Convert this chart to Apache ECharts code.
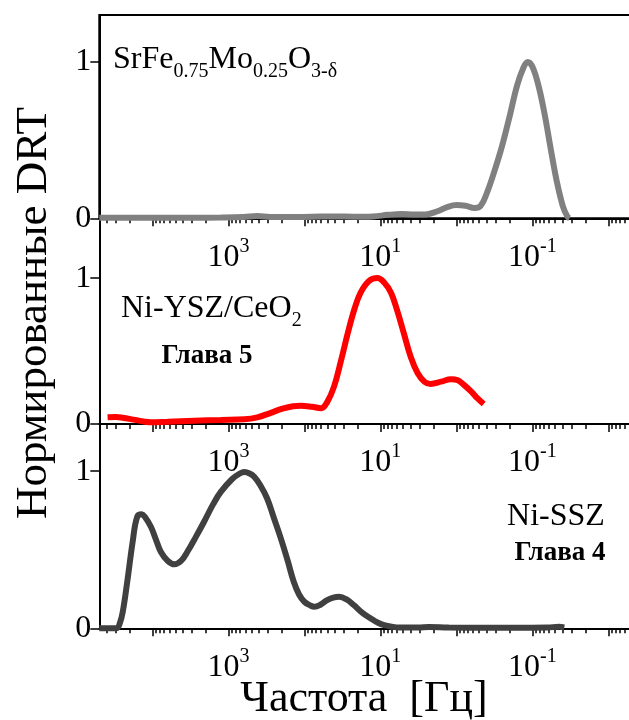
<!DOCTYPE html>
<html><head><meta charset="utf-8">
<script src="https://cdn.jsdelivr.net/npm/echarts@6/dist/echarts.min.js"></script>
<style>html,body{margin:0;padding:0;background:#fff}#c{width:629px;height:720px}</style>
</head><body><div id="c"></div>
<script>
// log10(frequency, Hz) and normalised DRT values
const logF1 = [4.699, 4.3, 3.9, 3.5, 3.1, 2.8, 2.62, 2.45, 2.2, 1.9, 1.6, 1.35, 1.1, 0.9, 0.72, 0.55, 0.4, 0.25, 0.12, 0.0, -0.12, -0.24, -0.32, -0.4, -0.5, -0.6, -0.7, -0.8, -0.88, -0.94, -1.0, -1.08, -1.16, -1.24, -1.32, -1.4, -1.46, -1.49];
const drt1  = [0.004, 0.004, 0.004, 0.004, 0.005, 0.008, 0.014, 0.008, 0.008, 0.01, 0.012, 0.01, 0.012, 0.022, 0.027, 0.024, 0.025, 0.045, 0.072, 0.085, 0.08, 0.066, 0.08, 0.16, 0.3, 0.46, 0.65, 0.85, 0.96, 1.0, 0.97, 0.85, 0.67, 0.45, 0.24, 0.08, 0.012, 0.0];

const logF2 = [4.59, 4.48, 4.39, 4.25, 4.1, 4.02, 3.8, 3.45, 3.1, 2.79, 2.62, 2.45, 2.3, 2.15, 2.05, 1.9, 1.78, 1.7, 1.61, 1.52, 1.43, 1.34, 1.26, 1.15, 1.04, 0.95, 0.86, 0.78, 0.69, 0.6, 0.51, 0.42, 0.34, 0.2, 0.07, -0.02, -0.1, -0.2, -0.28, -0.36];
const drt2  = [0.046, 0.048, 0.043, 0.03, 0.016, 0.012, 0.016, 0.023, 0.028, 0.032, 0.045, 0.075, 0.103, 0.122, 0.125, 0.118, 0.108, 0.15, 0.256, 0.43, 0.62, 0.79, 0.9, 0.98, 1.0, 0.97, 0.9, 0.78, 0.62, 0.46, 0.35, 0.29, 0.275, 0.29, 0.307, 0.3, 0.268, 0.22, 0.175, 0.137];

const logF3 = [4.699, 4.55, 4.47, 4.43, 4.39, 4.33, 4.26, 4.2, 4.14, 4.1, 4.02, 3.95, 3.89, 3.8, 3.71, 3.62, 3.54, 3.43, 3.32, 3.2, 3.1, 2.95, 2.85, 2.79, 2.72, 2.66, 2.58, 2.49, 2.4, 2.31, 2.22, 2.14, 2.07, 2.0, 1.92, 1.87, 1.79, 1.7, 1.62, 1.54, 1.45, 1.35, 1.24, 1.13, 1.03, 0.95, 0.85, 0.75, 0.5, 0.36, 0.1, -0.4, -0.9, -1.2, -1.35, -1.42];
const drt3  = [0, 0, 0, 0.03, 0.105, 0.30, 0.55, 0.71, 0.725, 0.71, 0.646, 0.56, 0.487, 0.43, 0.407, 0.43, 0.487, 0.58, 0.678, 0.79, 0.868, 0.95, 0.985, 0.995, 0.985, 0.964, 0.91, 0.826, 0.7, 0.572, 0.43, 0.296, 0.215, 0.169, 0.145, 0.137, 0.15, 0.18, 0.195, 0.2, 0.185, 0.148, 0.1, 0.064, 0.035, 0.02, 0.01, 0.005, 0.005, 0.008, 0.005, 0.004, 0.004, 0.005, 0.01, 0.006];

const decadeTicks = [4, 3, 2, 1, 0, -1, -2, -3];   // 10^4 ... 10^-3
const labelTicks  = [3, 1, -1];                    // labelled decades
const yTicks      = [0, 1];
const X_MAX = Math.log10(5e4), X_MIN = -3;

const minorTicks = [];
decadeTicks.forEach(d => { for (let k = 2; k <= 9; k++) { const v = d + Math.log10(k); if (v < X_MAX && v > X_MIN) minorTicks.push(v); } });

const FONT = 'Liberation Serif';
const grids = [
  { left: 99.3, top: 15,    width: 585, height: 203.3 },
  { left: 99.3, top: 218.3, width: 585, height: 205.7 },
  { left: 99.3, top: 424,   width: 585, height: 204.3 }
];
const yMax = [1.3, 1.41, 1.3];
const colors = ['#808080', '#ff0000', '#404040'];
const sets = [[logF1, drt1], [logF2, drt2], [logF3, drt3]];

const xAxes = [], yAxes = [], series = [];
grids.forEach((g, i) => {
  xAxes.push({
    gridIndex: i, type: 'value', min: X_MIN, max: X_MAX, inverse: true, position: 'bottom',
    axisLine: { show: true, onZero: false, lineStyle: { color: '#000', width: 2 } },
    axisTick: { show: true, customValues: decadeTicks, length: 8, lineStyle: { color: '#000', width: 1.5 } },
    axisLabel: {
      customValues: labelTicks, margin: 18, color: '#000', hideOverlap: false,
      formatter: v => '{b|10}{s|' + v + '}',
      rich: {
        b: { fontFamily: FONT, fontSize: 32, color: '#000', verticalAlign: 'top', padding: [5, 0, 0, 0] },
        s: { fontFamily: FONT, fontSize: 20, color: '#000', verticalAlign: 'top' }
      }
    },
    splitLine: { show: false }
  });
  xAxes.push({
    gridIndex: i, type: 'value', min: X_MIN, max: X_MAX, inverse: true, position: 'bottom',
    axisLine: { show: false, onZero: false },
    axisTick: { show: true, customValues: minorTicks, length: 5, lineStyle: { color: '#000', width: 1.5 } },
    axisLabel: { show: false },
    splitLine: { show: false }
  });
  yAxes.push({
    gridIndex: i, type: 'value', min: 0, max: yMax[i],
    axisLine: { show: true, onZero: false, lineStyle: { color: '#000', width: 2 } },
    axisTick: { show: true, customValues: yTicks, length: 9, lineStyle: { color: '#000', width: 1.5 } },
    axisLabel: { customValues: yTicks, fontFamily: FONT, fontSize: 32, color: '#000', margin: 8 },
    splitLine: { show: false }
  });
  series.push({
    type: 'line', xAxisIndex: 2 * i, yAxisIndex: i,
    data: sets[i][0].map((x, j) => [x, sets[i][1][j]]),
    showSymbol: false, smooth: 0.4, clip: false,
    lineStyle: { color: colors[i], width: 6 }
  });
});

const gridOpts = grids.map((g, i) => Object.assign({ containLabel: false, outerBoundsMode: 'none' }, g,
  i === 0 ? { show: true, borderColor: '#000', borderWidth: 2, backgroundColor: 'transparent' } : {}));

const subRich = {
  n: { fontFamily: FONT, fontSize: 32, color: '#000', verticalAlign: 'top' },
  d: { fontFamily: FONT, fontSize: 20, color: '#000', verticalAlign: 'top', padding: [18, 0, 0, 0] }
};

const chart = echarts.init(document.getElementById('c'), null, { renderer: 'canvas' });
chart.setOption({
  animation: false,
  backgroundColor: '#fff',
  grid: gridOpts,
  xAxis: xAxes,
  yAxis: yAxes,
  series: series,
  graphic: [
    { type: 'text', x: 34, y: 313, rotation: Math.PI / 2,
      style: { text: 'Нормированные DRT', font: '45px "Liberation Serif"', fill: '#000', align: 'center', verticalAlign: 'middle' } },
    { type: 'text', x: 364, y: 699,
      style: { text: 'Частота  [Гц]', font: '44px "Liberation Serif"', fill: '#000', align: 'center', verticalAlign: 'middle' } },
    { type: 'text', x: 113, y: 44,
      style: { text: '{n|SrFe}{d|0.75}{n|Mo}{d|0.25}{n|O}{d|3-δ}', rich: subRich, align: 'left', verticalAlign: 'top' } },
    { type: 'text', x: 121, y: 293,
      style: { text: '{n|Ni-YSZ/CeO}{d|2}', rich: subRich, align: 'left', verticalAlign: 'top' } },
    { type: 'text', x: 207, y: 356,
      style: { text: 'Глава 5', font: 'bold 27px "Liberation Serif"', fill: '#000', align: 'center', verticalAlign: 'middle' } },
    { type: 'text', x: 556, y: 517,
      style: { text: 'Ni-SSZ', font: '32px "Liberation Serif"', fill: '#000', align: 'center', verticalAlign: 'middle' } },
    { type: 'text', x: 560, y: 553,
      style: { text: 'Глава 4', font: 'bold 27px "Liberation Serif"', fill: '#000', align: 'center', verticalAlign: 'middle' } }
  ]
});
</script></body></html>
